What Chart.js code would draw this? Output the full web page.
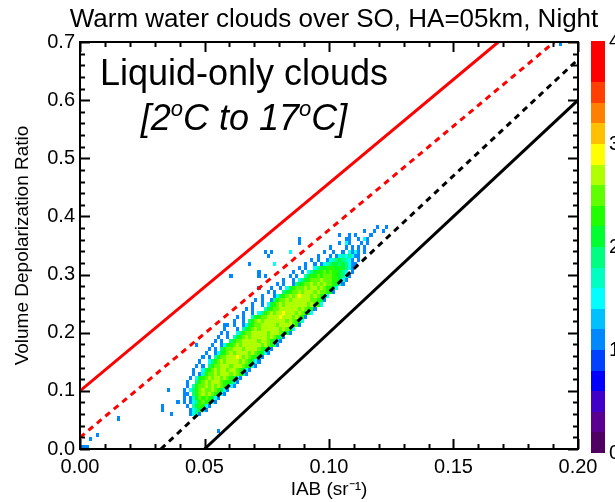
<!DOCTYPE html>
<html>
<head>
<meta charset="utf-8">
<script src="https://cdn.jsdelivr.net/npm/chart.js@4.4.1/dist/chart.umd.min.js"></script>
<style>
  html, body { margin: 0; padding: 0; background: #fff; }
  canvas { display: block; }
</style>
</head>
<body>
<canvas id="chart" width="615" height="502"></canvas>
<script>
// axis ticks
const xMajorTicks = [0, 0.05, 0.10, 0.15, 0.20];
const xMinorTicks = [0.01, 0.02, 0.03, 0.04, 0.06, 0.07, 0.08, 0.09, 0.11, 0.12, 0.13, 0.14, 0.16, 0.17, 0.18, 0.19];
const yMajorTicks = [0, 0.1, 0.2, 0.3, 0.4, 0.5, 0.6, 0.7];
const yMinorTicks = [0.02, 0.04, 0.06, 0.08, 0.12, 0.14, 0.16, 0.18, 0.22, 0.24, 0.26, 0.28, 0.32, 0.34, 0.36, 0.38,
  0.42, 0.44, 0.46, 0.48, 0.52, 0.54, 0.56, 0.58, 0.62, 0.64, 0.66, 0.68];

// colour table (bottom -> top of colour bar)
const palette = ['#500060', '#5a0090', '#4000c8', '#0000ff', '#0040ff', '#0088ff', '#00c0ff', '#00ffff',
  '#00ffc0', '#00ff80', '#00ff30', '#20ff00', '#60ff00', '#b0ff00', '#ffff00', '#ffc000', '#ff8000',
  '#ff4000', '#ff0000', '#ff0000'];
const colorbarLabels = ['0', '1', '2', '3', '4'];

// 2D histogram bins
const binW = 0.00125;
const binH = 0.007;

// [y bin, first x bin, levels]  '.' = empty, 0-9 a-j = colour level
const heatRows = [
  [8, 35, '5795'],
  [9, 35, '579a75'],
  [10, 34, '5.8abb75'],
  [11, 33, '5.579bcbb75'],
  [12, 33, '5.58acbcba75'],
  [13, 33, '55.9bcdcdcba75'],
  [14, 33, '5.79bcdccdcba75'],
  [15, 34, '5.8bccdcdcdcba75'],
  [16, 34, '5..9bcdcdddcbba75'],
  [17, 35, '5.7abcdcddcdcba75'],
  [18, 36, '5.58bccdcdddcdcb95'],
  [19, 36, '5..7abcdcddcddcba75'],
  [20, 37, '5.5.9bccdddcdddcba75'],
  [21, 38, '5..79bcdcddddcdcba75'],
  [22, 39, '5.5.8bccdddedcdcbb95'],
  [23, 40, '5..57abcdcddddcdcba75'],
  [24, 41, '5.5.9bccdddcddddcba75'],
  [25, 42, '5..57abcdcddddddcdcb95'],
  [26, 43, '5.5..9bccdddddcddcba75'],
  [27, 44, '5..5.8abcdcdddddcdcb95'],
  [28, 45, '5.5..79bccdddddcdddcba5'],
  [29, 46, '5...5.8abcdcddddddcdcb7'],
  [30, 47, '5.5..57abccdddddcddddcb5'],
  [31, 49, '5..5.9bcdcdddddddcdcba7'],
  [32, 50, '5.5..8abccddddedddcdcb5'],
  [33, 52, '5..5.79bcdcddedddcdcba7'],
  [34, 53, '5.5...8abccddddddcdcbb5'],
  [35, 55, '5..5.7abcdcdddddddcdcb7'],
  [36, 56, '5.5..59bccdcddddddccba5'],
  [37, 58, '5...57abcdcdedddcdcba7'],
  [38, 60, '5.5..9abccdcdddcdccba5'],
  [39, 61, '5..5.7abcccdcddcdcbba7'],
  [40, 63, '5.5..59abccdcdcdccba75'],
  [41, 65, '5..5.79abcccdcccbba75'],
  [42, 67, '5.5..8abbcbcccbba975'],
  [43, 68, '5..5.79abbcbcbba97.5'],
  [44, 70, '5.5..79aabbbaba975.'],
  [45, 72, '5..5.5789aa9a9755'],
  [46, 74, '5.5..5789a9875.5'],
  [47, 76, '5...5.57879755.'],
  [48, 78, '5..5..5.7575.5'],
  [49, 80, '5....5.5.5.5'],
  [50, 83, '5..5...7.5'],
  [51, 85, '5...5..5'],
  [52, 88, '5....5'],
  [53, 91, '5..5..5']
];

// isolated cells [x bin, y bin, level]
const heatSingles = [
  [0, 0, 5], [1, 0, 5], [2, 0, 5], [3, 2, 5], [5, 3, 5], [12, 7, 5],
  [26, 9, 5], [26, 10, 5], [29, 8, 5], [31, 11, 5], [28, 14, 5], [44, 4, 5],
  [37, 25, 5], [46, 30, 5], [48, 42, 5], [54, 45, 5], [57, 42, 5], [57, 43, 5],
  [59, 42, 5], [57, 39, 5], [60, 47, 5], [61, 48, 5], [62, 45, 7], [59, 48, 5],
  [67, 48, 7], [70, 50, 5], [70, 51, 5], [83, 52, 5], [86, 51, 5], [86, 52, 5],
  [90, 50, 5], [91, 51, 7], [85, 50, 7], [95, 54, 5], [98, 54, 5], [154, 99, 5]
];

// reference lines, end points
const redSolid = [{ x: 0, y: 0.1 }, { x: 0.168, y: 0.7 }];
const redDashed = [{ x: 0, y: 0.02 }, { x: 0.1905, y: 0.7 }];
const blackDashed = [{ x: 0.0325, y: 0 }, { x: 0.2, y: 0.67 }];
const blackSolid = [{ x: 0.05, y: 0 }, { x: 0.2, y: 0.6 }];

const FONT = "'Liberation Sans', Arial, Helvetica, sans-serif";

function levelOf(ch) {
  if (ch === '.') return -1;
  return parseInt(ch, 20);
}

function buildCells() {
  const cells = [];
  heatRows.forEach(([row, start, levels]) => {
    [...levels].forEach((ch, i) => {
      const v = levelOf(ch);
      if (v >= 0) cells.push({ x: (start + i) * binW, y: row * binH, v });
    });
  });
  heatSingles.forEach(([bx, by, v]) => cells.push({ x: bx * binW, y: by * binH, v }));
  return cells;
}

const heatPlugin = {
  id: 'heat',
  beforeDatasetsDraw(chart) {
    const { ctx, chartArea: a, scales: { x, y } } = chart;
    ctx.save();
    ctx.beginPath();
    ctx.rect(a.left, a.top, a.width, a.height);
    ctx.clip();
    chart.data.datasets[0].data.forEach(c => {
      const x0 = Math.round(x.getPixelForValue(c.x));
      const x1 = Math.round(x.getPixelForValue(c.x + binW));
      const y0 = Math.round(y.getPixelForValue(c.y + binH));
      const y1 = Math.round(y.getPixelForValue(c.y));
      ctx.fillStyle = palette[c.v];
      ctx.fillRect(x0, y0, x1 - x0, y1 - y0);
    });
    ctx.restore();
  }
};

const framePlugin = {
  id: 'frame',
  afterDatasetsDraw(chart) {
    const { ctx, chartArea: a, scales: { x, y } } = chart;
    ctx.save();
    ctx.strokeStyle = '#000';
    ctx.lineWidth = 2;
    ctx.strokeRect(a.left, a.top, a.width, a.height);
    ctx.beginPath();
    const xt = (v, len) => {
      const px = Math.round(x.getPixelForValue(v)) + 0.5;
      ctx.moveTo(px, a.bottom); ctx.lineTo(px, a.bottom - len);
      ctx.moveTo(px, a.top); ctx.lineTo(px, a.top + len);
    };
    const yt = (v, len) => {
      const py = Math.round(y.getPixelForValue(v)) + 0.5;
      ctx.moveTo(a.left, py); ctx.lineTo(a.left + len, py);
      ctx.moveTo(a.right, py); ctx.lineTo(a.right - len, py);
    };
    xMajorTicks.forEach(v => xt(v, 10));
    xMinorTicks.forEach(v => xt(v, 5));
    yMajorTicks.forEach(v => yt(v, 10));
    yMinorTicks.forEach(v => yt(v, 5));
    ctx.stroke();
    ctx.restore();
  }
};

const textPlugin = {
  id: 'texts',
  afterDraw(chart) {
    const { ctx } = chart;
    ctx.save();
    ctx.fillStyle = '#000';
    ctx.textBaseline = 'alphabetic';

    ctx.font = `26px ${FONT}`;
    ctx.textAlign = 'center';
    ctx.fillText('Warm water clouds over SO, HA=05km, Night', 334, 27);

    ctx.font = `36px ${FONT}`;
    ctx.fillText('Liquid-only clouds', 244, 85);

    // second line with raised degree "o"
    const parts = [
      ['[2', false], ['o', true], ['C to 17', false], ['o', true], ['C]', false]
    ];
    const big = `italic 36px ${FONT}`;
    const small = `italic 22px ${FONT}`;
    let total = 0;
    parts.forEach(([t, sup]) => { ctx.font = sup ? small : big; total += ctx.measureText(t).width; });
    let cx = 244 - total / 2;
    ctx.textAlign = 'left';
    parts.forEach(([t, sup]) => {
      ctx.font = sup ? small : big;
      ctx.fillText(t, cx, sup ? 116 : 130);
      cx += ctx.measureText(t).width;
    });

    // colour bar
    const cbTop = 41, cbBottom = 453, cbLeft = 591, cbRight = 605;
    const h = (cbBottom - cbTop) / palette.length;
    palette.forEach((col, i) => {
      ctx.fillStyle = col;
      const yb = Math.round(cbBottom - i * h);
      const yt = Math.round(cbBottom - (i + 1) * h);
      ctx.fillRect(cbLeft, yt, cbRight - cbLeft, yb - yt);
    });
    ctx.fillStyle = '#000';
    ctx.font = `20px ${FONT}`;
    ctx.textBaseline = 'middle';
    const step = (cbBottom - cbTop) / (colorbarLabels.length - 1);
    colorbarLabels.forEach((lab, i) => {
      ctx.fillText(lab, 609, cbBottom - i * step);
    });
    ctx.restore();
  }
};

function lineSet(data, color, dashed) {
  return {
    type: 'line',
    data,
    borderColor: color,
    borderWidth: 3,
    borderDash: dashed ? [6, 5] : [],
    pointRadius: 0,
    fill: false,
    showLine: true,
    tension: 0
  };
}

function init() {
  const ctx = document.getElementById('chart').getContext('2d');
  new Chart(ctx, {
    type: 'scatter',
    data: {
      datasets: [
        { type: 'scatter', data: buildCells(), pointRadius: 0, pointHoverRadius: 0 },
        lineSet(redSolid, '#ff0000', false),
        lineSet(redDashed, '#ff0000', true),
        lineSet(blackDashed, '#000000', true),
        lineSet(blackSolid, '#000000', false)
      ]
    },
    options: {
      responsive: false,
      animation: false,
      events: [],
      layout: { padding: { top: 42, right: 37, bottom: 0, left: 0 } },
      plugins: { legend: { display: false }, tooltip: { enabled: false }, title: { display: false } },
      scales: {
        x: {
          type: 'linear', min: 0, max: 0.2,
          afterFit: s => { s.height = 53; },
          afterBuildTicks: s => { s.ticks = xMajorTicks.map(v => ({ value: v })); },
          grid: { display: false, drawTicks: false },
          border: { display: false },
          ticks: { color: '#000', font: { family: FONT, size: 20 }, padding: 6, maxRotation: 0,
            callback: v => v.toFixed(2) },
          title: { display: true, text: 'IAB (sr⁻¹)', color: '#000', font: { family: FONT, size: 19 },
            padding: { top: 0, bottom: 1 } }
        },
        y: {
          type: 'linear', min: 0, max: 0.7,
          afterFit: s => { s.width = 80; },
          afterBuildTicks: s => { s.ticks = yMajorTicks.map(v => ({ value: v })); },
          grid: { display: false, drawTicks: false },
          border: { display: false },
          ticks: { color: '#000', font: { family: FONT, size: 20 }, padding: 5,
            callback: v => v.toFixed(1) },
          title: { display: true, text: 'Volume Depolarization Ratio', color: '#000',
            font: { family: FONT, size: 19 }, padding: { top: 11, bottom: 0 } }
        }
      }
    },
    plugins: [heatPlugin, framePlugin, textPlugin]
  });
}

if (document.readyState === 'loading') {
  document.addEventListener('DOMContentLoaded', init);
} else {
  init();
}
</script>
</body>
</html>
